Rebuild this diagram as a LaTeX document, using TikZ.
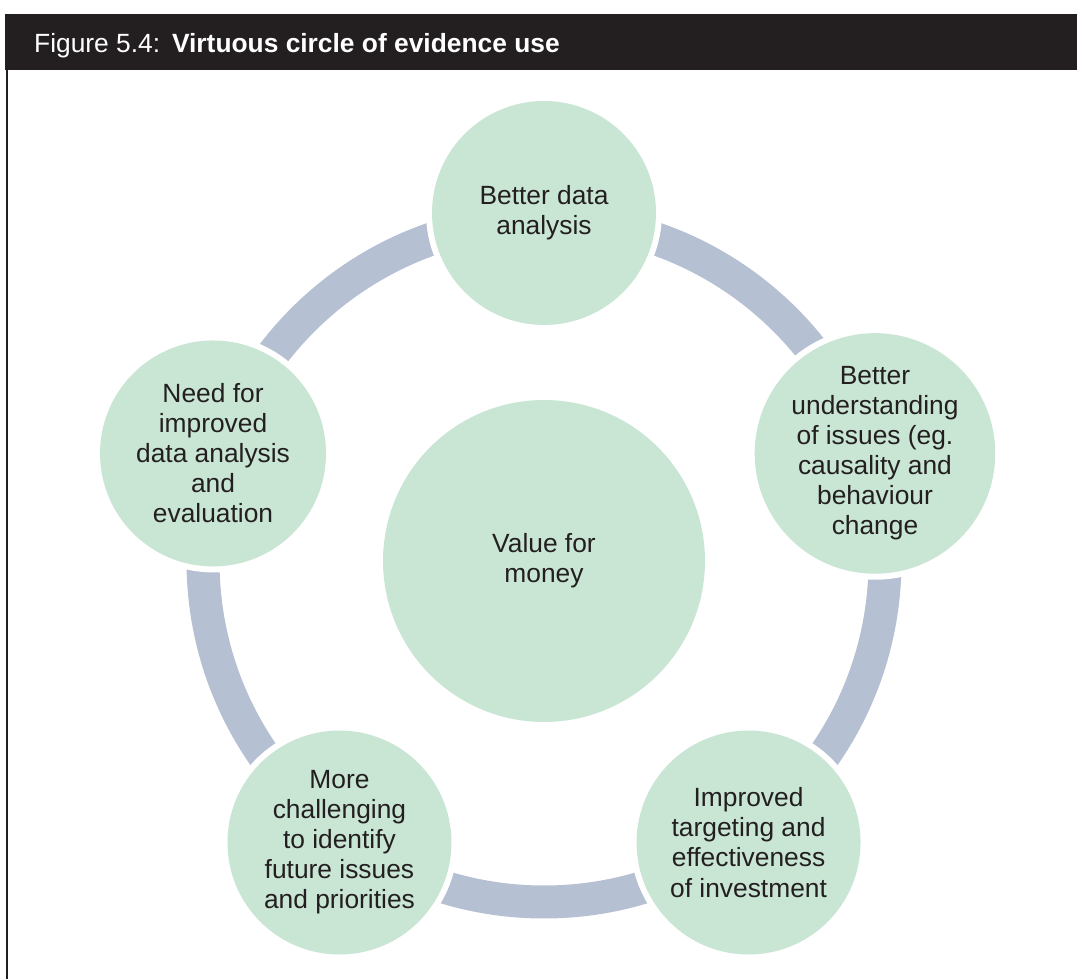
\documentclass[tikz,border=0pt]{standalone}
\usepackage{fontspec}
\setmainfont{Liberation Sans}
\usepackage{tikz}
\usetikzlibrary{calc}

\definecolor{mint}{RGB}{201,229,212}
\definecolor{slateband}{RGB}{182,192,211}
\definecolor{titlebar}{RGB}{35,31,32}

\tikzset{
    bubble/.style={circle, fill=mint, inner sep=0pt, align=center, text=titlebar,
        font=\fontsize{15}{17.1}\selectfont,
        preaction={draw=white, line width=0.24cm}},
    ring/.style={draw=slateband, line width=0.66cm}
}

\begin{document}
\begin{tikzpicture}[x=0.02cm,y=0.02cm]
    \useasboundingbox (0,0) rectangle (1077,979);
    % heading bar and frame
    \fill [titlebar] (5,909) rectangle (1077,965);
    \draw [line width=0.04cm,titlebar] (7,909) -- (7,0);
    \node [anchor=west,text=white,font=\fontsize{15}{18}\selectfont] (title) at (28,933)
        {Figure 5.4:\hspace{0.45em}\textbf{Virtuous circle of evidence use}};

    \node [bubble,minimum size=6.44cm] (hub) at (544,418) {Value for\\money};
    \draw [ring] (hub.center) circle [radius=341];

    \node [bubble,minimum size=4.48cm] (data) at ($(hub.center)+(90:348)$) {Better data\\analysis};
    \node [bubble,minimum size=4.8cm] (insight) at ($(hub.center)+(18:348)$)
        {Better\\understanding\\of issues (eg.\\causality and\\behaviour\\change};
    \node [bubble,minimum size=4.48cm] (target) at ($(hub.center)+(-54:348)$)
        {Improved\\targeting and\\effectiveness\\of investment};
    \node [bubble,minimum size=4.48cm] (future) at ($(hub.center)+(-126:348)$)
        {More\\challenging\\to identify\\future issues\\and priorities};
    \node [bubble,minimum size=4.52cm] (need) at ($(hub.center)+(162:348)$)
        {Need for\\improved\\data analysis\\and\\evaluation};
\end{tikzpicture}
\end{document}
